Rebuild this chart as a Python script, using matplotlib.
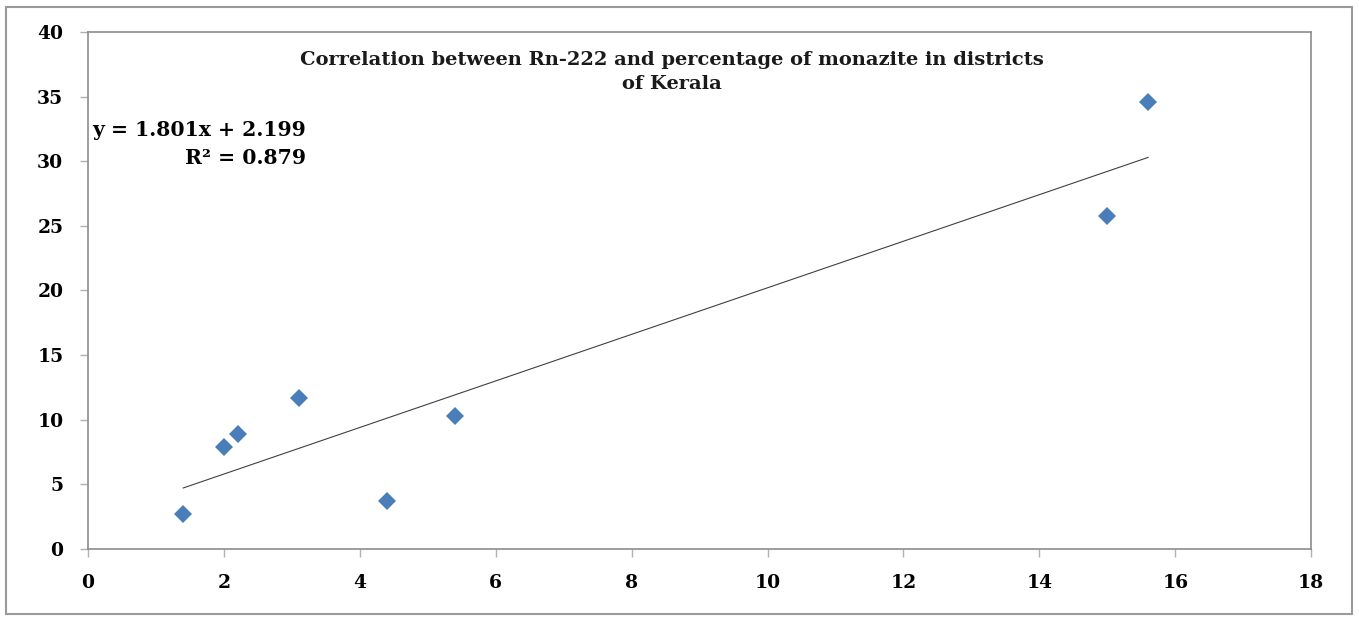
import numpy as np
import matplotlib.pyplot as plt
from matplotlib.patches import Rectangle

# monazite percentage vs Rn-222
monazite = [1.4, 2.0, 2.2, 3.1, 4.4, 5.4, 15.0, 15.6]
radon = [2.7, 7.9, 8.9, 11.7, 3.7, 10.3, 25.8, 34.6]
slope = 1.801
intercept = 2.199
r2 = 0.879
xticks = np.arange(0, 19, 2)
yticks = np.arange(0, 41, 5)

plt.rcParams['font.family'] = ['DejaVu Serif']
fig = plt.figure(figsize=(13.59, 6.17), dpi=100)
ax = fig.add_axes([0.0648, 0.1102, 0.900, 0.838])

# trend line over the data range
xl = np.array([min(monazite), max(monazite)])
ax.plot(xl, slope * xl + intercept, '-', color='#404040', lw=0.8)
ax.plot(monazite, radon, 'D', color='#4A7EBB', markersize=9.5, markeredgewidth=0)

ax.set_xlim(0, 18)
ax.set_ylim(0, 40)
ax.set_xticks(xticks)
ax.set_yticks(yticks)
for s in ax.spines.values():
    s.set_color('#8c8c8c')
    s.set_linewidth(1.2)
ax.tick_params(direction='out', length=5.8, width=1, color='#b0b0b0', labelsize=13.5)
ax.tick_params(axis='y', pad=12)
ax.tick_params(axis='x', pad=12.5)
for lab in ax.get_xticklabels() + ax.get_yticklabels():
    lab.set_fontweight('bold')

ax.text(0.4775, 0.9226, 'Correlation between Rn-222 and percentage of monazite in districts\nof Kerala',
        transform=ax.transAxes, ha='center', va='center', fontsize=14, fontweight='bold',
        linespacing=1.4, color='#1a1a1a')
ax.text(0.178, 0.8104, f'y = {slope}x + {intercept}', transform=ax.transAxes, ha='right',
        va='center', fontsize=14.7, fontweight='bold')
ax.text(0.178, 0.7563, f'R² = {r2}', transform=ax.transAxes, ha='right', va='center',
        fontsize=14.7, fontweight='bold')

# outer chart border
fig.patches.append(Rectangle((0.0044, 0.0049), 0.9904, 0.9838, transform=fig.transFigure,
                             fill=False, edgecolor='#9a9a9a', lw=1.5))

fig.savefig('out.png', dpi=100)
